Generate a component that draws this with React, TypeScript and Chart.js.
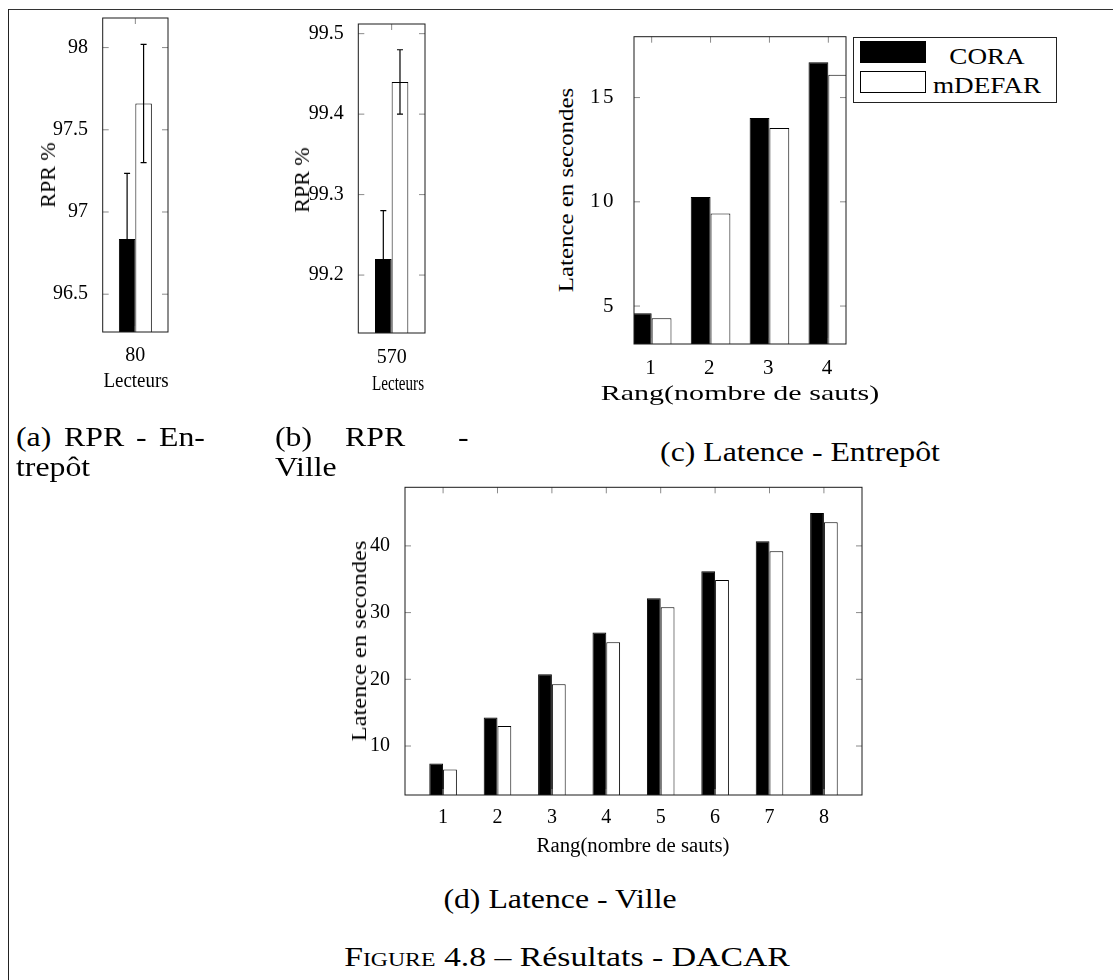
import React, { useEffect, useRef } from "react";
import { Chart, registerables } from "chart.js";

Chart.register(...registerables);

// ---------- DATA ----------
const seriesNames = ["CORA", "mDEFAR"];

// (a) RPR - Entrepôt
const rprEntrepotLabels = ["80"];
const rprEntrepotCora = [96.835];
const rprEntrepotMdefar = [97.66];
const rprEntrepotCoraErr = [0.4];
const rprEntrepotMdefarErr = [0.36];
const rprEntrepotTicks = [96.5, 97, 97.5, 98];
const rprEntrepotRange = [96.27, 98.18];

// (b) RPR - Ville
const rprVilleLabels = ["570"];
const rprVilleCora = [99.22];
const rprVilleMdefar = [99.44];
const rprVilleCoraErr = [0.06];
const rprVilleMdefarErr = [0.04];
const rprVilleTicks = [99.2, 99.3, 99.4, 99.5];
const rprVilleRange = [99.128, 99.512];

// (c) Latence - Entrepôt
const latEntrepotRangs = [1, 2, 3, 4];
const latEntrepotCora = [4.65, 10.23, 14.02, 16.69];
const latEntrepotMdefar = [4.41, 9.44, 13.54, 16.1];
const latEntrepotTicks = [5, 10, 15];
const latEntrepotRange = [3.18, 17.92];
const latEntrepotXRange = [0.7, 4.3];

// (d) Latence - Ville
const latVilleRangs = [1, 2, 3, 4, 5, 6, 7, 8];
const latVilleCora = [7.4, 14.26, 20.76, 27.0, 32.14, 36.19, 40.7, 44.94];
const latVilleMdefar = [6.5, 13.0, 19.26, 25.55, 30.8, 34.9, 39.2, 43.54];
const latVilleTicks = [10, 20, 30, 40];
const latVilleRange = [2.66, 48.78];
const latVilleXRange = [0.3, 8.7];

// ---------- STYLE ----------
const FONT = '"Liberation Serif", "Times New Roman", serif';
const seriesFill = ["#000000", "#ffffff"];

const pgfPlugin = {
  id: "pgf",
  beforeDraw(chart: any, _a: any, opts: any) {
    (chart.ctx as any).letterSpacing = (opts && opts.letterSpacing) || "0px";
  },
  afterDatasetsDraw(chart: any, _a: any, opts: any) {
    const ctx = chart.ctx;
    const { left, right, top, bottom } = chart.chartArea;
    const xs = chart.scales.x;
    const ys = chart.scales.y;
    ctx.save();
    if (opts && opts.errors) {
      ctx.strokeStyle = "#000";
      ctx.lineWidth = 1.2;
      opts.errors.forEach((errs: number[], di: number) => {
        const meta = chart.getDatasetMeta(di);
        const vals = chart.data.datasets[di].data as number[];
        meta.data.forEach((el: any, i: number) => {
          const v = vals[i];
          const e = errs[i];
          const px = el.x;
          const y1 = ys.getPixelForValue(v + e);
          const y2 = ys.getPixelForValue(v - e);
          ctx.beginPath();
          ctx.moveTo(px, y1);
          ctx.lineTo(px, y2);
          ctx.moveTo(px - 3, y1);
          ctx.lineTo(px + 3, y1);
          ctx.moveTo(px - 3, y2);
          ctx.lineTo(px + 3, y2);
          ctx.stroke();
        });
      });
    }
    const L = 6;
    ctx.strokeStyle = "#8a8a8a";
    ctx.lineWidth = 1;
    ctx.beginPath();
    xs.ticks.forEach((_t: any, i: number) => {
      const px = xs.getPixelForTick(i);
      ctx.moveTo(px, bottom);
      ctx.lineTo(px, bottom - L);
      ctx.moveTo(px, top);
      ctx.lineTo(px, top + L);
    });
    ys.ticks.forEach((_t: any, i: number) => {
      const py = ys.getPixelForTick(i);
      ctx.moveTo(left, py);
      ctx.lineTo(left + L, py);
      ctx.moveTo(right, py);
      ctx.lineTo(right - L, py);
    });
    ctx.stroke();
    ctx.strokeStyle = "#1a1a1a";
    ctx.lineWidth = 1;
    ctx.strokeRect(left, top, right - left, bottom - top);
    ctx.restore();
  },
  afterDraw(chart: any) {
    (chart.ctx as any).letterSpacing = "0px";
  },
};

type PanelProps = {
  left: number;
  top: number;
  width: number;
  height: number;
  labels: (string | number)[];
  series: number[][];
  errors?: number[][];
  xRange?: number[];
  xTicks?: number[];
  yRange: number[];
  yTicks: number[];
  groupFrac: number;
  pad: { top: number; right: number; bottom: number; left: number };
  yAxisWidth: number;
  xAxisHeight: number;
  yTickPad: number;
  xTickPad: number;
  tickFont: number;
  letterSpacing?: string;
};

function BarPanel(p: PanelProps) {
  const ref = useRef<HTMLCanvasElement>(null);
  useEffect(() => {
    const linear = !!p.xRange;
    const zeroPad = (s: any) => {
      s.paddingLeft = 0;
      s.paddingRight = 0;
      s.paddingTop = 0;
      s.paddingBottom = 0;
    };
    const xScale: any = {
      type: linear ? "linear" : "category",
      offset: !linear,
      grid: { display: false },
      border: { display: false },
      ticks: {
        font: { family: FONT, size: p.tickFont },
        color: "#000",
        padding: p.xTickPad,
        maxRotation: 0,
        autoSkip: false,
      },
      afterFit: (s: any) => {
        s.height = p.xAxisHeight;
        zeroPad(s);
      },
    };
    if (linear) {
      xScale.min = p.xRange![0];
      xScale.max = p.xRange![1];
      xScale.ticks.callback = (v: any) => String(v);
      xScale.afterBuildTicks = (s: any) => {
        s.ticks = (p.xTicks || []).map((v) => ({ value: v }));
      };
    }
    const chart = new Chart(ref.current as HTMLCanvasElement, {
      type: "bar",
      data: {
        labels: p.labels as any,
        datasets: p.series.map((s, i) => ({
          label: seriesNames[i],
          data: s,
          backgroundColor: seriesFill[i],
          borderColor: "#000",
          borderWidth: 1,
          categoryPercentage: p.groupFrac,
          barPercentage: 1,
          base: p.yRange[0],
          clip: 0 as any,
        })),
      },
      options: {
        responsive: false,
        animation: false,
        events: [],
        layout: { padding: p.pad },
        plugins: {
          legend: { display: false },
          tooltip: { enabled: false },
          pgf: { errors: p.errors, letterSpacing: p.letterSpacing },
        } as any,
        scales: {
          x: xScale,
          y: {
            type: "linear",
            min: p.yRange[0],
            max: p.yRange[1],
            beginAtZero: false,
            grid: { display: false },
            border: { display: false },
            ticks: {
              font: { family: FONT, size: p.tickFont },
              color: "#000",
              padding: p.yTickPad,
              autoSkip: false,
              callback: (v: any) => String(v),
            },
            afterBuildTicks: (s: any) => {
              s.ticks = p.yTicks.map((v) => ({ value: v }));
            },
            afterFit: (s: any) => {
              s.width = p.yAxisWidth;
              zeroPad(s);
            },
          } as any,
        },
      },
      plugins: [pgfPlugin as any],
    });
    return () => chart.destroy();
  }, []);
  return (
    <canvas
      ref={ref}
      width={p.width}
      height={p.height}
      style={{ position: "absolute", left: p.left, top: p.top, width: p.width, height: p.height }}
    />
  );
}

function Txt(props: {
  x: number;
  y: number;
  size: number;
  sx?: number;
  rot?: number;
  children: React.ReactNode;
}) {
  const { x, y, size, sx = 1, rot = 0 } = props;
  return (
    <div
      style={{
        position: "absolute",
        left: x,
        top: y,
        transform: `translate(-50%, -50%) rotate(${rot}deg) scaleX(${sx})`,
        fontFamily: FONT,
        fontSize: size,
        lineHeight: 1,
        whiteSpace: "nowrap",
        color: "#000",
      }}
    >
      {props.children}
    </div>
  );
}

function LTxt(props: { x: number; y: number; size: number; sx?: number; children: React.ReactNode }) {
  const { x, y, size, sx = 1 } = props;
  return (
    <div
      style={{
        position: "absolute",
        left: x,
        top: y,
        transformOrigin: "0 50%",
        transform: `translateY(-50%) scaleX(${sx})`,
        fontFamily: FONT,
        fontSize: size,
        lineHeight: 1,
        whiteSpace: "nowrap",
        color: "#000",
      }}
    >
      {props.children}
    </div>
  );
}

function Legend() {
  const rows = [
    { sy: 4, ty: 19.1 },
    { sy: 34, ty: 48 },
  ];
  return (
    <div
      style={{
        position: "absolute",
        left: 852.7,
        top: 36.7,
        width: 204.6,
        height: 66.6,
        border: "1px solid #222",
        boxSizing: "border-box",
        background: "#fff",
      }}
    >
      {seriesNames.map((name, i) => (
        <React.Fragment key={name}>
          <div
            style={{
              position: "absolute",
              left: 6.3,
              top: rows[i].sy - 1,
              width: 66,
              height: 22,
              background: seriesFill[i],
              border: "1px solid #000",
              boxSizing: "border-box",
            }}
          />
          <Txt x={133.3} y={rows[i].ty - 1} size={23} sx={1.18}>
            {name}
          </Txt>
        </React.Fragment>
      ))}
    </div>
  );
}

export default function App() {
  const CAP = 26.5;
  const CSX = 1.2;
  const L1 = 437;
  const L2 = 467;
  return (
    <div
      style={{
        position: "fixed",
        left: 0,
        top: 0,
        width: 1113,
        height: 980,
        background: "#fff",
        overflow: "hidden",
      }}
    >
      {/* page frame */}
      <div style={{ position: "absolute", left: 7.5, top: 8.8, width: 1106, height: 1.3, background: "#333" }} />
      <div style={{ position: "absolute", left: 7.5, top: 8.8, width: 1.5, height: 972, background: "#222" }} />

      {/* (a) */}
      <BarPanel
        left={20}
        top={0}
        width={170}
        height={400}
        labels={rprEntrepotLabels}
        series={[rprEntrepotCora, rprEntrepotMdefar]}
        errors={[rprEntrepotCoraErr, rprEntrepotMdefarErr]}
        yRange={rprEntrepotRange}
        yTicks={rprEntrepotTicks}
        groupFrac={0.505}
        pad={{ top: 18, right: 22, bottom: 8, left: 0 }}
        yAxisWidth={82.7}
        xAxisHeight={60}
        yTickPad={6.7}
        xTickPad={4}
        tickFont={20}
      />
      <Txt x={48} y={175} size={22} rot={-90}>
        RPR %
      </Txt>
      <Txt x={135.8} y={380} size={21} sx={0.9}>
        Lecteurs
      </Txt>

      {/* (b) */}
      <BarPanel
        left={270}
        top={0}
        width={180}
        height={400}
        labels={rprVilleLabels}
        series={[rprVilleCora, rprVilleMdefar]}
        errors={[rprVilleCoraErr, rprVilleMdefarErr]}
        yRange={rprVilleRange}
        yTicks={rprVilleTicks}
        groupFrac={0.5}
        pad={{ top: 24, right: 25, bottom: 5, left: 0 }}
        yAxisWidth={88.3}
        xAxisHeight={62}
        yTickPad={6.6}
        xTickPad={5}
        tickFont={20}
      />
      <Txt x={301.7} y={180} size={22} rot={-90}>
        RPR %
      </Txt>
      <Txt x={397.8} y={383} size={21} sx={0.72}>
        Lecteurs
      </Txt>

      {/* (c) */}
      <BarPanel
        left={580}
        top={0}
        width={280}
        height={400}
        labels={latEntrepotRangs}
        series={[latEntrepotCora, latEntrepotMdefar]}
        xRange={latEntrepotXRange}
        xTicks={latEntrepotRangs}
        yRange={latEntrepotRange}
        yTicks={latEntrepotTicks}
        groupFrac={0.673}
        pad={{ top: 36.7, right: 14, bottom: 16, left: 0 }}
        yAxisWidth={54}
        xAxisHeight={40}
        yTickPad={10}
        xTickPad={3.4}
        tickFont={21}
        letterSpacing="2.5px"
      />
      <Txt x={566} y={190} size={22} sx={1.13} rot={-90}>
        Latence en secondes
      </Txt>
      <Txt x={740} y={393} size={21} sx={1.43}>
        Rang(nombre de sauts)
      </Txt>
      <Legend />

      {/* (d) */}
      <BarPanel
        left={340}
        top={470}
        width={540}
        height={380}
        labels={latVilleRangs}
        series={[latVilleCora, latVilleMdefar]}
        xRange={latVilleXRange}
        xTicks={latVilleRangs}
        yRange={latVilleRange}
        yTicks={latVilleTicks}
        groupFrac={0.507}
        pad={{ top: 17.3, right: 18, bottom: 25, left: 0 }}
        yAxisWidth={65}
        xAxisHeight={30}
        yTickPad={7}
        xTickPad={3}
        tickFont={20}
      />
      <Txt x={358.6} y={641} size={22} sx={1.11} rot={-90}>
        Latence en secondes
      </Txt>
      <Txt x={632.6} y={845} size={20} sx={1.04}>
        Rang(nombre de sauts)
      </Txt>

      {/* captions */}
      <LTxt x={16} y={L1} size={CAP} sx={CSX}>(a)</LTxt>
      <LTxt x={63.5} y={L1} size={CAP} sx={CSX}>RPR</LTxt>
      <LTxt x={136} y={L1} size={CAP} sx={CSX}>-</LTxt>
      <LTxt x={158.5} y={L1} size={CAP} sx={CSX}>En-</LTxt>
      <LTxt x={16} y={L2} size={CAP} sx={CSX}>trepôt</LTxt>

      <LTxt x={275} y={L1} size={CAP} sx={CSX}>(b)</LTxt>
      <LTxt x={345} y={L1} size={CAP} sx={CSX}>RPR</LTxt>
      <LTxt x={458} y={L1} size={CAP} sx={CSX}>-</LTxt>
      <LTxt x={275} y={L2} size={CAP} sx={CSX}>Ville</LTxt>

      <Txt x={800} y={452} size={CAP} sx={CSX}>
        (c) Latence - Entrepôt
      </Txt>
      <Txt x={560} y={899} size={CAP} sx={CSX}>
        (d) Latence - Ville
      </Txt>
      <Txt x={566.6} y={957} size={27} sx={1.25}>
        <span style={{ fontVariant: "small-caps" }}>Figure</span> 4.8 – Résultats - DACAR
      </Txt>
    </div>
  );
}
